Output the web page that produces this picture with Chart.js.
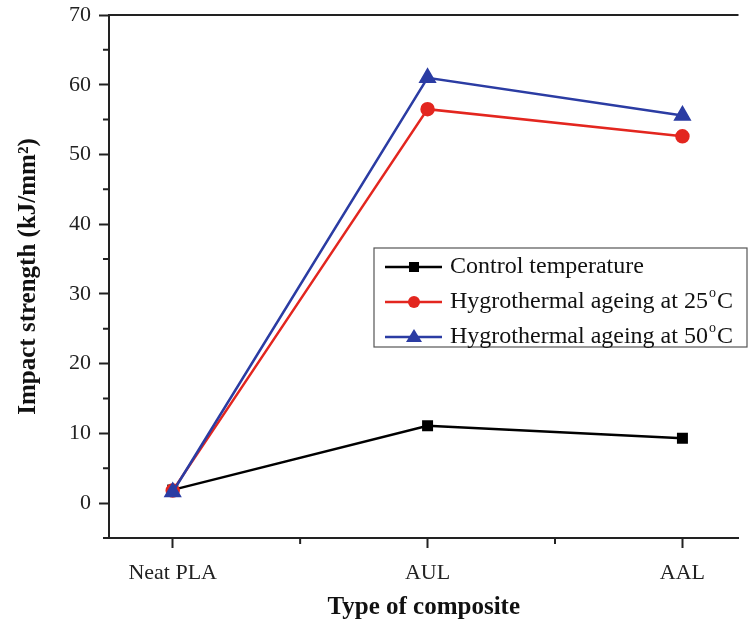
<!DOCTYPE html>
<html>
<head>
<meta charset="utf-8">
<script src="https://cdn.jsdelivr.net/npm/chart.js@4"></script>
<style>
  html, body { margin: 0; padding: 0; background: #fff; }
  #wrap { width: 749px; height: 624px; }
</style>
</head>
<body>
<div id="wrap"><canvas id="myChart" width="749" height="624"></canvas></div>
<script>
const categories = ['Neat PLA', 'AUL', 'AAL'];
const controlTemp = [1.9, 11.1, 9.3];
const ageing25 = [1.8, 56.5, 52.6];
const ageing50 = [1.6, 61.0, 55.6];
const yTicks = [0, 10, 20, 30, 40, 50, 60, 70];
const yMinorTicks = [-5, 5, 15, 25, 35, 45, 55, 65];
const xMinorTicks = [0.5, 1.5];
const seriesLabels = ['Control temperature', 'Hygrothermal ageing at 25', 'Hygrothermal ageing at 50'];

const serif = '"Liberation Serif", "Times New Roman", serif';
const toPoints = (arr) => arr.map((v, i) => ({ x: i, y: v }));

// minor ticks, top border and the boxed legend
const extras = {
	id: 'extras',
	afterDraw(chart) {
		const { ctx, chartArea, scales } = chart;
		ctx.save();
		ctx.strokeStyle = '#222';
		ctx.lineWidth = 2;
		ctx.beginPath();
		ctx.moveTo(chartArea.left - 1, chartArea.top);
		ctx.lineTo(chartArea.right, chartArea.top);
		ctx.stroke();

		ctx.beginPath();
		yMinorTicks.forEach(v => {
			const y = scales.y.getPixelForValue(v);
			ctx.moveTo(chartArea.left, y);
			ctx.lineTo(chartArea.left - 6, y);
		});
		xMinorTicks.forEach(v => {
			const x = scales.x.getPixelForValue(v);
			ctx.moveTo(x, chartArea.bottom);
			ctx.lineTo(x, chartArea.bottom + 6);
		});
		ctx.stroke();

		// legend box
		const bx = 374, by = 248, bw = 373, bh = 99;
		ctx.lineWidth = 1.2;
		ctx.strokeStyle = '#555';
		ctx.strokeRect(bx, by, bw, bh);
		const rows = [267, 302, 337];
		ctx.textBaseline = 'middle';
		chart.data.datasets.forEach((ds, i) => {
			const y = rows[i];
			ctx.strokeStyle = ds.borderColor;
			ctx.fillStyle = ds.borderColor;
			ctx.lineWidth = 2.5;
			ctx.beginPath();
			ctx.moveTo(385, y);
			ctx.lineTo(442, y);
			ctx.stroke();
			const cx = 414;
			ctx.beginPath();
			if (ds.pointStyle === 'rect') {
				ctx.fillRect(cx - 5, y - 5, 10, 10);
			} else if (ds.pointStyle === 'circle') {
				ctx.arc(cx, y, 6, 0, Math.PI * 2);
				ctx.fill();
			} else {
				ctx.moveTo(cx, y - 8);
				ctx.lineTo(cx + 8, y + 5);
				ctx.lineTo(cx - 8, y + 5);
				ctx.closePath();
				ctx.fill();
			}
			ctx.fillStyle = '#111';
			ctx.textAlign = 'left';
			const label = seriesLabels[i];
			ctx.font = '24px ' + serif;
			ctx.fillText(label, 450, y);
			if (i > 0) {
				let w = ctx.measureText(label).width;
				ctx.font = '14px ' + serif;
				ctx.fillText('o', 450 + w + 1, y - 9);
				w += ctx.measureText('o').width + 1;
				ctx.font = '24px ' + serif;
				ctx.fillText('C', 450 + w + 1, y);
			}
		});
		ctx.restore();
	}
};

const ctx = document.getElementById('myChart');
const myChart = new Chart(ctx, {
	type: 'line',
	data: {
		datasets: [
			{
				label: seriesLabels[0],
				data: toPoints(controlTemp),
				borderColor: '#000000',
				backgroundColor: '#000000',
				pointStyle: 'rect',
				pointRadius: 6,
				borderWidth: 2.5,
				order: 3
			},
			{
				label: seriesLabels[1],
				data: toPoints(ageing25),
				borderColor: '#e3261f',
				backgroundColor: '#e3261f',
				pointStyle: 'circle',
				pointRadius: 6,
				borderWidth: 2.5,
				order: 2
			},
			{
				label: seriesLabels[2],
				data: toPoints(ageing50),
				borderColor: '#2b3ca3',
				backgroundColor: '#2b3ca3',
				pointStyle: 'triangle',
				pointRadius: 8,
				borderWidth: 2.5,
				order: 1
			}
		]
	},
	options: {
		responsive: false,
		animation: false,
		layout: { padding: { top: 15, right: 0, left: 0, bottom: 0 } },
		plugins: { legend: { display: false }, tooltip: { enabled: false } },
		elements: { line: { tension: 0 }, point: { borderWidth: 0 } },
		scales: {
			x: {
				type: 'linear',
				min: -0.25,
				max: 2.22,
				afterBuildTicks: (scale) => { scale.ticks = categories.map((c, i) => ({ value: i })); },
				afterFit: (scale) => { scale.height = 86; scale.paddingLeft = 0; scale.paddingRight = 0; },
				grid: { drawOnChartArea: false, tickLength: 10, tickColor: '#222', tickWidth: 2 },
				border: { color: '#222', width: 2 },
				ticks: {
					color: '#222',
					font: { family: serif, size: 22 },
					padding: 12,
					maxRotation: 0,
					callback: (v) => categories[v]
				},
				title: {
					display: true,
					text: 'Type of composite',
					color: '#111',
					font: { family: serif, size: 25, weight: 'bold' },
					padding: { top: 6, bottom: 1 }
				}
			},
			y: {
				min: -5,
				max: 70,
				afterBuildTicks: (scale) => { scale.ticks = yTicks.map(v => ({ value: v })); },
				afterFit: (scale) => { scale.width = 109; scale.paddingTop = 0; scale.paddingBottom = 0; },
				grid: { drawOnChartArea: false, tickLength: 10, tickColor: '#222', tickWidth: 2 },
				border: { color: '#222', width: 2 },
				ticks: {
					color: '#222',
					font: { family: serif, size: 22 },
					padding: 8
				},
				title: {
					display: true,
					text: 'Impact strength (kJ/mm²)',
					color: '#111',
					font: { family: serif, size: 25, weight: 'bold' },
					padding: { top: 14, bottom: 4 }
				}
			}
		}
	},
	plugins: [extras]
});
</script>
</body>
</html>
